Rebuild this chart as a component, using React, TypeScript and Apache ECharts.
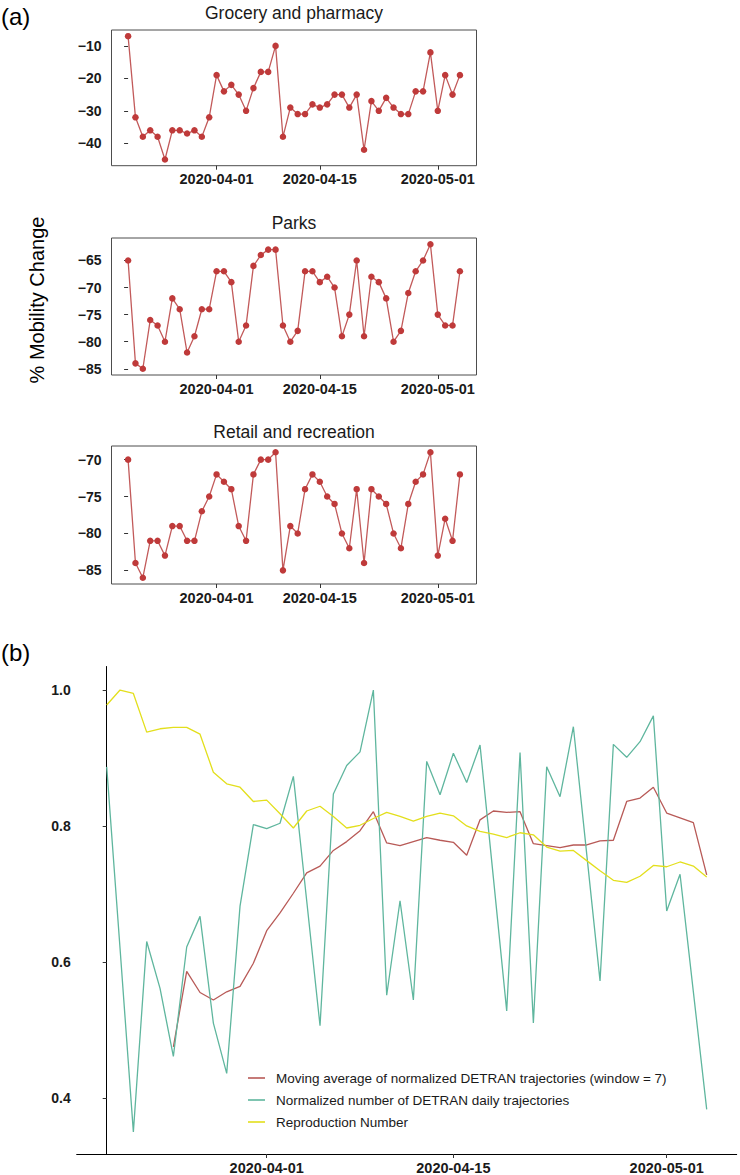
import React, { useEffect, useRef } from "react";
import * as echarts from "echarts";

const dates = [
  "2020-03-20", "2020-03-21", "2020-03-22", "2020-03-23", "2020-03-24", "2020-03-25",
  "2020-03-26", "2020-03-27", "2020-03-28", "2020-03-29", "2020-03-30", "2020-03-31",
  "2020-04-01", "2020-04-02", "2020-04-03", "2020-04-04", "2020-04-05", "2020-04-06",
  "2020-04-07", "2020-04-08", "2020-04-09", "2020-04-10", "2020-04-11", "2020-04-12",
  "2020-04-13", "2020-04-14", "2020-04-15", "2020-04-16", "2020-04-17", "2020-04-18",
  "2020-04-19", "2020-04-20", "2020-04-21", "2020-04-22", "2020-04-23", "2020-04-24",
  "2020-04-25", "2020-04-26", "2020-04-27", "2020-04-28", "2020-04-29", "2020-04-30",
  "2020-05-01", "2020-05-02", "2020-05-03", "2020-05-04",
];
const tickDates = ["2020-04-01", "2020-04-15", "2020-05-01"];

const panelTitles = ["Grocery and pharmacy", "Parks", "Retail and recreation"];

const grocery = [
  -7, -32, -38, -36, -38, -45, -36, -36, -37, -36, -38, -32,
  -19, -24, -22, -25, -30, -23, -18, -18, -10, -38, -29, -31,
  -31, -28, -29, -28, -25, -25, -29, -25, -42, -27, -30, -26,
  -29, -31, -31, -24, -24, -12, -30, -19, -25, -19,
];
const parks = [
  -65, -84, -85, -76, -77, -80, -72, -74, -82, -79, -74, -74,
  -67, -67, -69, -80, -77, -66, -64, -63, -63, -77, -80, -78,
  -67, -67, -69, -68, -70, -79, -75, -65, -79, -68, -69, -72,
  -80, -78, -71, -67, -65, -62, -75, -77, -77, -67,
];
const retail = [
  -70, -84, -86, -81, -81, -83, -79, -79, -81, -81, -77, -75,
  -72, -73, -74, -79, -81, -72, -70, -70, -69, -85, -79, -80,
  -74, -72, -73, -75, -76, -80, -82, -74, -84, -74, -75, -76,
  -80, -82, -76, -73, -72, -69, -83, -78, -81, -72,
];
const groceryTicks = [-40, -30, -20, -10];
const parksTicks = [-85, -80, -75, -70, -65];
const retailTicks = [-85, -80, -75, -70];

const seriesNames = [
  "Moving average of normalized DETRAN trajectories (window = 7)",
  "Normalized number of DETRAN daily trajectories",
  "Reproduction Number",
];
const movingAvg = [
  null, null, null, null, null, 0.475,
  0.586, 0.555, 0.544, 0.556, 0.564, 0.598,
  0.646, 0.672, 0.701, 0.731, 0.741, 0.764,
  0.777, 0.793, 0.821, 0.775, 0.771, 0.777,
  0.783, 0.779, 0.776, 0.757, 0.809, 0.822,
  0.820, 0.821, 0.774, 0.771, 0.768, 0.772,
  0.772, 0.778, 0.779, 0.836, 0.841, 0.857,
  0.819, 0.812, 0.805, 0.728,
];
const dailyNorm = [
  0.887, 0.62, 0.350, 0.630, 0.561, 0.461,
  0.622, 0.667, 0.510, 0.436, 0.682, 0.802,
  0.796, 0.804, 0.873, 0.69, 0.506, 0.847,
  0.889, 0.909, 1.0, 0.551, 0.690, 0.544,
  0.895, 0.846, 0.907, 0.864, 0.919, 0.724,
  0.528, 0.908, 0.510, 0.887, 0.843, 0.946,
  0.759, 0.572, 0.920, 0.901, 0.924, 0.962,
  0.675, 0.729, 0.556, 0.383,
];
const reproduction = [
  0.978, 1.0, 0.995, 0.938, 0.943, 0.945,
  0.945, 0.935, 0.879, 0.862, 0.857, 0.836,
  0.838, 0.818, 0.797, 0.822, 0.829, 0.814,
  0.797, 0.801, 0.811, 0.820, 0.814, 0.807,
  0.814, 0.819, 0.815, 0.800, 0.792, 0.788,
  0.783, 0.790, 0.787, 0.769, 0.763, 0.764,
  0.749, 0.734, 0.720, 0.717, 0.726, 0.742,
  0.740, 0.747, 0.741, 0.725,
];
const bTicks = [0.4, 0.6, 0.8, 1.0];

const FONT = "'Liberation Sans', Arial, Helvetica, sans-serif";
const RED_PT = "#BF3A3A";
const RED_LN = "#C25A5A";
const RED_B = "#B85A57";
const GREEN = "#5FB69E";
const YELLOW = "#E3DF1C";

const toPairs = (arr: (number | null)[]) =>
  arr.map((v, i) => (v === null ? null : [i, v])).filter((p) => p !== null);

const fmtNum = (v: number) => {
  const r = Math.round(v);
  return r < 0 ? "\u2212" + Math.abs(r) : String(r);
};

export default function App() {
  const ref = useRef<HTMLDivElement>(null);

  useEffect(() => {
    if (!ref.current) return;
    const chart = echarts.init(ref.current, undefined, { renderer: "svg" });
    const tickIdx = tickDates.map((d) => dates.indexOf(d));

    const aGrids = [
      { left: 111.5, top: 30, width: 365, height: 135.7 },
      { left: 111.5, top: 238, width: 365, height: 137 },
      { left: 111.5, top: 446, width: 365, height: 138 },
    ];
    const aRanges = [
      [-46.9, -5.1],
      [-86.15, -60.85],
      [-86.85, -68.15],
    ];
    const aTicks = [groceryTicks, parksTicks, retailTicks];
    const aData = [grocery, parks, retail];

    const labelBase = {
      fontFamily: FONT,
      fontWeight: "bold",
      fontSize: 14.5,
      color: "#1a1a1a",
    };

    const grids: any[] = aGrids.map((g) => ({
      ...g,
      show: true,
      borderColor: "#4D4D4D",
      borderWidth: 1,
      backgroundColor: "transparent",
      containLabel: false,
    }));
    grids.push({ left: 76.7, top: 666.5, width: 660, height: 487.7, containLabel: false });

    const xAxes: any[] = [];
    const yAxes: any[] = [];
    for (let i = 0; i < 3; i++) {
      xAxes.push({
        type: "value",
        gridIndex: i,
        min: -2.25,
        max: 47.25,
        axisLine: { show: false },
        splitLine: { show: false },
        axisTick: { show: true, length: 4, lineStyle: { color: "#333", width: 1 }, customValues: tickIdx },
        axisLabel: {
          ...labelBase,
          customValues: tickIdx,
          formatter: (v: number) => dates[Math.round(v)] ?? "",
          margin: 6,
        },
      });
      yAxes.push({
        type: "value",
        gridIndex: i,
        min: aRanges[i][0],
        max: aRanges[i][1],
        axisLine: { show: false },
        splitLine: { show: false },
        axisTick: { show: true, length: 4, lineStyle: { color: "#333", width: 1 }, customValues: aTicks[i] },
        axisLabel: {
          ...labelBase,
          fontSize: 14,
          customValues: aTicks[i],
          formatter: (v: number) => fmtNum(v),
          margin: 10,
        },
      });
    }
    xAxes.push({
      type: "value",
      gridIndex: 3,
      min: -2.25,
      max: 47.25,
      axisLine: { show: true, lineStyle: { color: "#000", width: 1 } },
      splitLine: { show: false },
      axisTick: { show: true, length: 4, lineStyle: { color: "#333", width: 1 }, customValues: tickIdx },
      axisLabel: {
        ...labelBase,
        customValues: tickIdx,
        formatter: (v: number) => dates[Math.round(v)] ?? "",
        margin: 6,
      },
    });
    yAxes.push({
      type: "value",
      gridIndex: 3,
      min: 0.3174,
      max: 1.0346,
      axisLine: { show: true, lineStyle: { color: "#000", width: 1 } },
      splitLine: { show: false },
      axisTick: { show: true, length: 4, lineStyle: { color: "#333", width: 1 }, customValues: bTicks },
      axisLabel: {
        ...labelBase,
        fontSize: 14,
        customValues: bTicks,
        formatter: (v: number) => v.toFixed(1),
        margin: 6,
      },
    });

    const series: any[] = aData.map((arr, i) => ({
      type: "line",
      xAxisIndex: i,
      yAxisIndex: i,
      data: toPairs(arr),
      symbol: "circle",
      symbolSize: 6.5,
      showSymbol: true,
      itemStyle: { color: RED_PT },
      lineStyle: { color: RED_LN, width: 1.3 },
      silent: true,
    }));
    const bSeries = [
      { name: seriesNames[0], data: movingAvg, color: RED_B },
      { name: seriesNames[1], data: dailyNorm, color: GREEN },
      { name: seriesNames[2], data: reproduction, color: YELLOW },
    ];
    bSeries.forEach((s) => {
      series.push({
        type: "line",
        name: s.name,
        xAxisIndex: 3,
        yAxisIndex: 3,
        data: toPairs(s.data),
        symbol: "none",
        showSymbol: false,
        itemStyle: { color: s.color },
        lineStyle: { color: s.color, width: 1.3 },
        silent: true,
      });
    });

    const titleCenters = [13, 223, 432];
    const graphic: any[] = panelTitles.map((t, i) => ({
      type: "text",
      x: 294,
      y: titleCenters[i],
      style: {
        text: t,
        font: `17.5px ${FONT}`,
        fill: "#1a1a1a",
        textAlign: "center",
        textVerticalAlign: "middle",
      },
    }));
    graphic.push({
      type: "text",
      x: 37,
      y: 300,
      rotation: Math.PI / 2,
      style: {
        text: "% Mobility Change",
        font: `20px ${FONT}`,
        fill: "#000",
        textAlign: "center",
        textVerticalAlign: "middle",
      },
    });
    graphic.push({
      type: "text",
      x: 1,
      y: 16,
      style: { text: "(a)", font: `24px ${FONT}`, fill: "#000", textAlign: "left", textVerticalAlign: "middle" },
    });
    graphic.push({
      type: "text",
      x: 1,
      y: 652,
      style: { text: "(b)", font: `24px ${FONT}`, fill: "#000", textAlign: "left", textVerticalAlign: "middle" },
    });

    chart.setOption({
      animation: false,
      backgroundColor: "#fff",
      grid: grids,
      xAxis: xAxes,
      yAxis: yAxes,
      series,
      graphic,
      legend: {
        show: true,
        orient: "vertical",
        left: 248,
        top: 1070,
        itemWidth: 17,
        itemHeight: 1.6,
        itemGap: 6,
        padding: 0,
        icon: "rect",
        data: seriesNames,
        textStyle: {
          fontFamily: FONT,
          fontSize: 13.5,
          color: "#1a1a1a",
          lineHeight: 16,
          padding: [0, 0, 0, 6],
        },
        selectedMode: false,
      },
    });
    return () => chart.dispose();
  }, []);

  return (
    <div
      ref={ref}
      style={{ position: "absolute", left: 0, top: 0, width: 740, height: 1175, background: "#fff" }}
    />
  );
}
